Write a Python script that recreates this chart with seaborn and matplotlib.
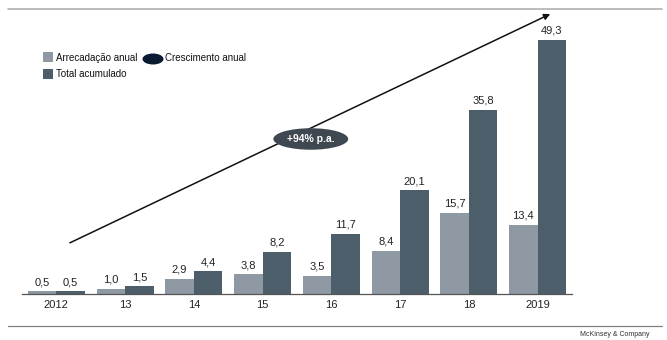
import matplotlib
matplotlib.use("Agg")
import matplotlib.pyplot as plt
from matplotlib.patches import Rectangle, Ellipse
from matplotlib.lines import Line2D
import seaborn as sns
import pandas as pd

categories = ["2012", "13", "14", "15", "16", "17", "18", "2019"]
arrecadacao = [0.5, 1.0, 2.9, 3.8, 3.5, 8.4, 15.7, 13.4]
acumulado = [0.5, 1.5, 4.4, 8.2, 11.7, 20.1, 35.8, 49.3]
series_names = ["Arrecadação anual", "Total acumulado"]
growth_label = "+94% p.a."
legend_growth = "Crescimento anual"
source = "McKinsey & Company"

light = "#8e99a3"
dark = "#4d5e6b"

df = pd.DataFrame({
    "ano": categories * 2,
    "valor": arrecadacao + acumulado,
    "serie": [series_names[0]] * len(categories) + [series_names[1]] * len(categories),
})

sns.set_theme(style="white")
plt.rcParams["font.family"] = ["Liberation Sans", "DejaVu Sans"]

fig = plt.figure(figsize=(6.67, 3.4), dpi=100)
W, H = 667, 340
ax_left, ax_right = 22, 572
ax_bottom = 294
ymax = 55
ppu = 5.15
ax_top = ax_bottom - ymax * ppu
ax = fig.add_axes([ax_left / W, (H - ax_bottom) / H, (ax_right - ax_left) / W, (ax_bottom - ax_top) / H])

sns.barplot(data=df, x="ano", y="valor", hue="serie", palette=[light, dark],
            width=0.83, gap=0, saturation=1, ax=ax, legend=False, edgecolor="none")

ax.set_xlim(-0.5, 7.5)
ax.set_ylim(0, ymax)
for s in ["top", "right", "left"]:
    ax.spines[s].set_visible(False)
ax.spines["bottom"].set_color("#555555")
ax.spines["bottom"].set_linewidth(0.9)
ax.set_yticks([])
ax.set_xlabel("")
ax.set_ylabel("")
ax.tick_params(axis="x", length=0, labelsize=8, pad=4, colors="#222222")

for cont in ax.containers:
    ax.bar_label(cont, labels=[f"{v:.1f}".replace(".", ",") for v in cont.datavalues],
                 fontsize=8, padding=3, color="#222222")

# growth arrow
ax.annotate("", xy=(7.22, 54.6), xytext=(0.16, 9.7),
            arrowprops=dict(arrowstyle="-|>", color="#111111", lw=1.1, mutation_scale=9),
            annotation_clip=False)
ax.text(3.70, 30.1, growth_label, ha="center", va="center", fontsize=7.5, color="white",
        fontweight="bold",
        bbox=dict(boxstyle="ellipse,pad=0.25", fc="#3f4850", ec="none"))

# legend drawn manually
def fx(x): return x / W
def fy(y): return (H - y) / H
fig.patches.append(Rectangle((fx(43), fy(62)), 10 / W, 10 / H, transform=fig.transFigure,
                             fc=light, ec="none"))
fig.patches.append(Rectangle((fx(43), fy(79)), 10 / W, 10 / H, transform=fig.transFigure,
                             fc=dark, ec="none"))
fig.patches.append(Ellipse((fx(153), fy(59)), 21 / W, 11 / H, transform=fig.transFigure,
                           fc="#0a1a33", ec="none"))
fig.text(fx(56), fy(58), series_names[0], fontsize=7, va="center", color="#111111")
fig.text(fx(56), fy(74), series_names[1], fontsize=7, va="center", color="#111111")
fig.text(fx(165), fy(58), legend_growth, fontsize=7, va="center", color="#111111")

# frame lines
fig.add_artist(Line2D([fx(8), fx(662)], [fy(9), fy(9)], color="#b0b0b0", lw=1.2))
fig.add_artist(Line2D([fx(8), fx(662)], [fy(326), fy(326)], color="#808080", lw=0.9))
fig.text(fx(650), fy(334), source, fontsize=5, ha="right", va="center", color="#333333")

fig.savefig("out.png", dpi=100)
